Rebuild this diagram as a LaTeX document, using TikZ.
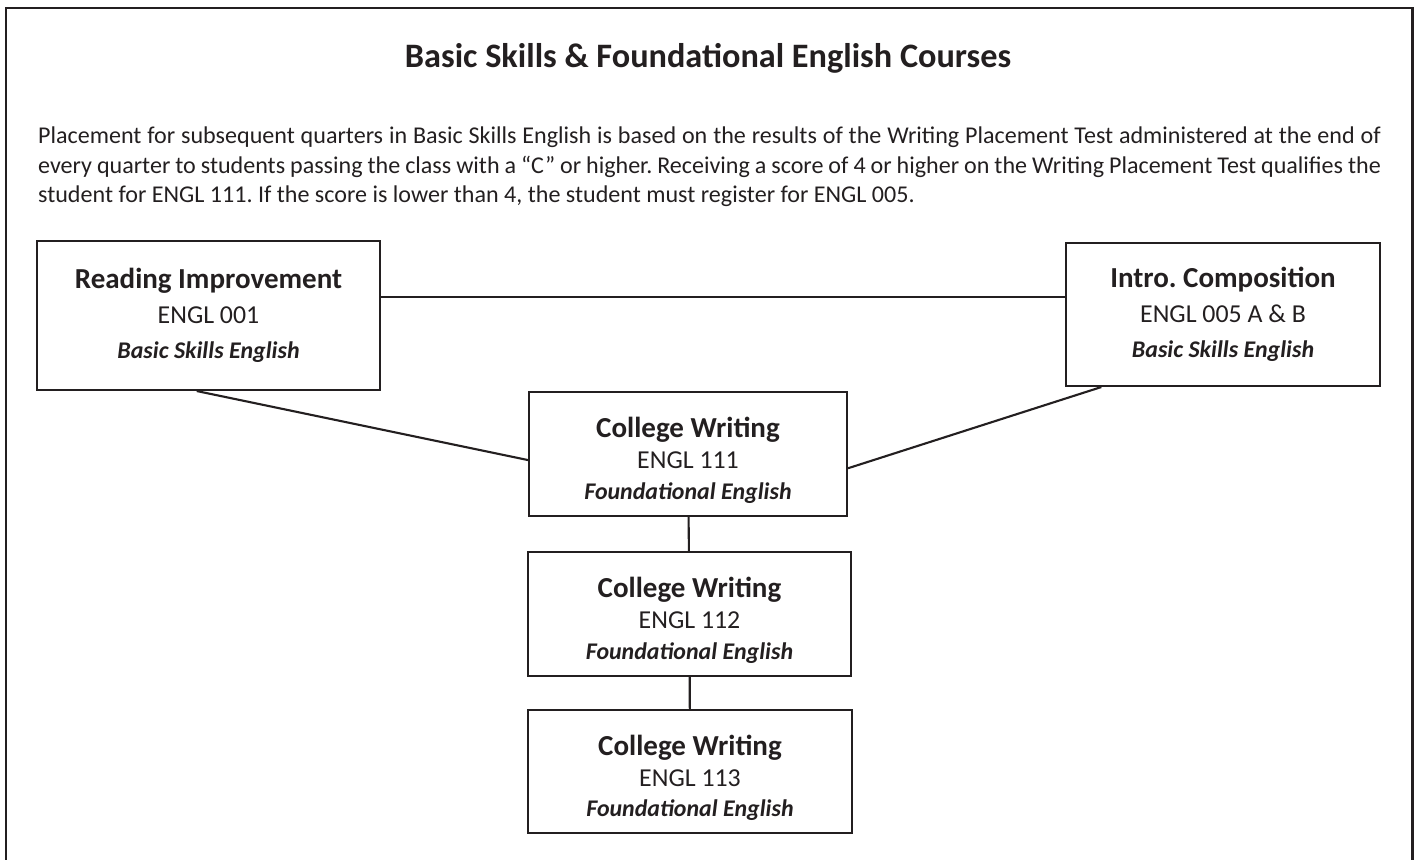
\documentclass[tikz,border=0pt]{standalone}
\usepackage{fontspec}
\setmainfont{Carlito}
\usetikzlibrary{graphs,calc}
\definecolor{ink}{HTML}{231F20}

\tikzset{
	course/.style={rectangle, draw, align=center, inner sep=0pt, font=\fontsize{14.7}{20}\selectfont},
	writing/.style={course, font=\fontsize{14.7}{17.5}\selectfont}
}
\newcommand{\heading}[1]{{\bfseries\fontsize{16.5}{20}\selectfont #1}}
\newcommand{\level}[1]{{\bfseries\itshape\fontsize{13.6}{17}\selectfont #1}}
\newcommand{\cwtext}[1]{\rule{0pt}{19pt}\heading{College Writing}\\ ENGL #1\\ \level{Foundational English}}

\begin{document}
\frenchspacing
\begin{tikzpicture}[x=0.02cm, y=-0.02cm, color=ink, line width=1.2pt]
		\useasboundingbox (0,0) rectangle (1417,859);
		% outer frame, open at the bottom
		\draw[line width=1.7pt] (6,870) -- (6,8) -- (1412,8) -- (1412,870);
		
		\node (title) at (708,58) {\bfseries\fontsize{19.5}{22}\selectfont Basic Skills \& Foundational English Courses};
		\node (note) at (709.5,167) [text width=26.86cm, align=justify, inner sep=0pt, font=\fontsize{13.7}{16.7}\selectfont] {Placement for subsequent quarters in Basic Skills English is based on the results of the Writing Placement Test administered at the end of\linebreak every quarter to students passing the class with a “C” or higher. Receiving a score of 4 or higher on the Writing Placement Test qualifies the\linebreak student for ENGL 111. If the score is lower than 4, the student must register for ENGL 005.};
		
		\node (read) at (208.5,315.5) [course, minimum width=6.86cm, minimum height=2.98cm] {\heading{Reading Improvement}\\ ENGL 001\\ \level{Basic Skills English}};
		\node (intro) at (1223,314.5) [course, minimum width=6.28cm, minimum height=2.86cm] {\heading{Intro. Composition}\\ ENGL 005 A \& B\\ \level{Basic Skills English}};
		\node (cw_1) at (688,454) [writing, minimum width=6.36cm, minimum height=2.48cm] {\cwtext{111}};
		\node (cw_2) at (689.5,614) [writing, minimum width=6.46cm, minimum height=2.48cm] {\cwtext{112}};
		\node (cw_3) at (690,771.5) [writing, minimum width=6.48cm, minimum height=2.46cm] {\cwtext{113}};
		
		\coordinate (r_e) at ($(read.north east)!0.376!(read.south east)$);
		\coordinate (i_w) at (intro.west |- r_e);
		\coordinate (r_s) at ($(read.south west)!0.466!(read.south east)$);
		\coordinate (i_s) at ($(intro.south west)!0.115!(intro.south east)$);
		\coordinate (c1_w) at ($(cw_1.north west)!0.548!(cw_1.south west)$);
		\coordinate (c1_e) at ($(cw_1.north east)!0.613!(cw_1.south east)$);
		
		\graph {
			(r_e) -- (i_w);
			(r_s) -- (c1_w);
			(i_s) -- (c1_e);
			(cw_1) -- (cw_2);
			(cw_2) -- (cw_3);
		};
	\end{tikzpicture}
\end{document}
